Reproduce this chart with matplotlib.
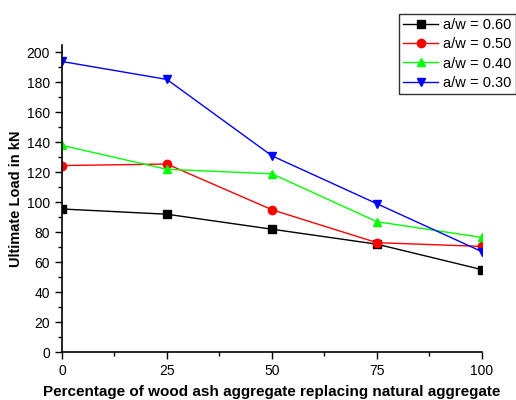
import matplotlib.pyplot as plt
from matplotlib.ticker import MultipleLocator

plt.rcParams['font.family'] = ['Liberation Sans', 'DejaVu Sans']

replacement = [0, 25, 50, 75, 100]
load_060 = [95.5, 92, 82, 72, 55]
load_050 = [124.5, 125.5, 95, 73, 70.5]
load_040 = [138, 122, 119, 87, 76.5]
load_030 = [194, 182, 131, 99, 67]

series = [
    ('a/w = 0.60', load_060, 'black', 's'),
    ('a/w = 0.50', load_050, 'red', 'o'),
    ('a/w = 0.40', load_040, '#00ff00', '^'),
    ('a/w = 0.30', load_030, 'blue', 'v'),
]

fig = plt.figure(figsize=(5.16, 4.0), dpi=100)
ax = fig.add_axes([0.120, 0.12, 0.814, 0.7675])

for label, vals, col, mk in series:
    ax.plot(replacement, vals, color=col, marker=mk, markersize=6,
            linewidth=1, label=label)

ax.set_xlim(0, 100)
ax.set_ylim(0, 205)
ax.xaxis.set_major_locator(MultipleLocator(25))
ax.xaxis.set_minor_locator(MultipleLocator(12.5))
ax.yaxis.set_major_locator(MultipleLocator(20))
ax.yaxis.set_minor_locator(MultipleLocator(10))
ax.tick_params(which='both', direction='out', width=1, labelsize=10)
ax.tick_params(which='major', length=5)
ax.tick_params(which='minor', length=3)
ax.spines['top'].set_visible(False)
ax.spines['right'].set_visible(False)
ax.spines['left'].set_linewidth(1.2)
ax.spines['bottom'].set_linewidth(1.2)

ax.set_xlabel('Percentage of wood ash aggregate replacing natural aggregate',
              fontsize=11, fontweight='bold', labelpad=5)
ax.set_ylabel('Ultimate Load in kN', fontsize=10.5, fontweight='bold', labelpad=3)

# legend sits above the plot, pushed against the right edge like the original
leg = fig.legend(loc='upper left', bbox_to_anchor=(399 / 516, 1 - 14 / 400),
                 fontsize=10.5, frameon=True, fancybox=False, edgecolor='black',
                 handlelength=2.4, handletextpad=0.3, borderpad=0.3,
                 labelspacing=0.35, borderaxespad=0)
leg.get_frame().set_linewidth(1)

fig.savefig('out.png', dpi=100)
